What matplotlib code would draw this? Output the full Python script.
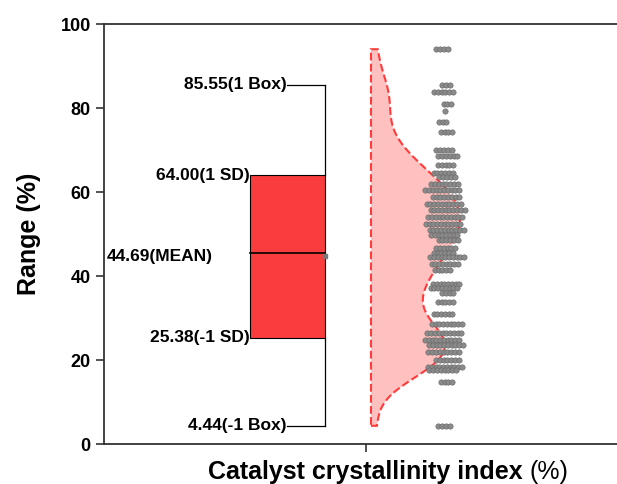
import matplotlib
matplotlib.use("Agg")
import matplotlib.pyplot as plt
import numpy as np

plt.rcParams['font.family'] = ['Liberation Sans', 'DejaVu Sans']

# data: distinct values and how many points sit on each row
row_values = [94.0, 85.6, 83.9, 81.0, 79.4, 76.6, 74.3, 70.1, 68.5, 66.5,
              64.6, 63.6, 62.0, 60.4, 58.8, 57.2, 55.7, 54.1, 52.5, 51.1,
              49.7, 48.5, 46.6, 45.4, 44.6, 43.0, 41.4, 38.2, 37.3, 35.9,
              33.9, 31.1, 28.7, 26.4, 24.8, 23.6, 22.0, 20.0, 18.4, 17.7,
              14.9, 4.4]
row_counts = [4, 3, 6, 3, 1, 3, 4, 5, 6, 5,
              6, 5, 8, 10, 8, 10, 10, 10, 10, 10,
              8, 6, 6, 6, 10, 8, 5, 8, 8, 4,
              5, 6, 9, 10, 10, 10, 9, 7, 10, 8,
              4, 4]

mean_val = 44.69
median_val = 45.5
sd_low, sd_high = 25.38, 64.00
box_low, box_high = 4.44, 85.55

label_up = "85.55(1 Box)"
label_sd_up = "64.00(1 SD)"
label_mean = "44.69(MEAN)"
label_sd_low = "25.38(-1 SD)"
label_low = "4.44(-1 Box)"

values = np.repeat(row_values, row_counts)

fig = plt.figure(figsize=(6.17, 4.84), dpi=100)
ax = fig.add_axes([0.1686, 0.082, 0.8492, 0.8684])

# box (mean +/- SD) with whiskers on the right side
bc, bw = 0.85, 0.0716
ax.bar(bc, sd_high - sd_low, bottom=sd_low, width=2 * bw, color='#f93c3c',
       edgecolor='black', linewidth=0.8, zorder=2)
ax.plot([bc - bw, bc + bw], [median_val, median_val], color='black', lw=1.2, zorder=3)
ax.plot([bc + bw, bc + bw], [sd_high, box_high], color='black', lw=0.9, zorder=2)
ax.plot([bc + bw, bc + bw], [box_low, sd_low], color='black', lw=0.9, zorder=2)
ax.plot([bc, bc + bw], [box_high, box_high], color='black', lw=0.9)
ax.plot([bc, bc + bw], [box_low, box_low], color='black', lw=0.9)
ax.plot(bc + bw, mean_val, marker='s', ms=3, color='#777777', zorder=4)

tk = dict(fontsize=12.5, fontweight='bold', va='center', ha='right')
ax.text(bc - 0.002, box_high, label_up, **tk)
ax.text(bc - 0.002, box_low, label_low, **tk)
ax.text(bc - bw - 0.001, sd_high, label_sd_up, **tk)
ax.text(bc - bw - 0.001, sd_low, label_sd_low, **tk)
ax.text(0.707, mean_val, label_mean, **tk)

# half violin from a gaussian kde of the points
x0, vmax = 1.0095, 0.17
grid = np.linspace(values.min(), values.max(), 300)
bwk = 5.0
dens = np.exp(-0.5 * ((grid[:, None] - values[None, :]) / bwk) ** 2).sum(axis=1)
dens = dens / dens.max() * vmax
vx = np.concatenate([[x0], x0 + dens, [x0]])
vy = np.concatenate([[grid[0]], grid, [grid[-1]]])
ax.fill(vx, vy, facecolor='#ffc0c0', edgecolor='#ff3b3b', linestyle='--',
        linewidth=1.5, zorder=2)

# points, spread sideways in each row
sc = 1.151
px, py = [], []
for i, (v, n) in enumerate(zip(row_values, row_counts)):
    shift = ((i * 0.618) % 1 - 0.5) * 0.012
    offs = (np.arange(n) - (n - 1) / 2) * 0.0072 + shift
    px.extend(sc + offs)
    py.extend([v] * n)
ax.scatter(px, py, s=15, color='#8a8a8a', edgecolors='#666666', linewidths=0.4, zorder=3)

ax.set_xlim(0.5, 1.5)
ax.set_ylim(0, 100)
ax.set_xticks([1.0])
ax.set_xticklabels([''])
ax.set_yticks([0, 20, 40, 60, 80, 100])
ax.tick_params(axis='y', labelsize=13, length=6, width=1.2, direction='out', color='#333333')
ax.tick_params(axis='x', length=6, width=1.2, direction='out', color='#333333')
for lab in ax.get_yticklabels():
    lab.set_fontweight('bold')
for s in ['left', 'bottom', 'top']:
    ax.spines[s].set_linewidth(1.3)
    ax.spines[s].set_color('#333333')
ax.spines['right'].set_visible(False)

ax.set_ylabel('Range (%)', fontsize=18, fontweight='bold', labelpad=14)

xl = fig.text(208 / 617, 1 - 472 / 484, 'Catalyst crystallinity index ', fontsize=18,
              fontweight='bold', ha='left', va='center')
ax.annotate('(%)', xy=(1, 0.5), xycoords=xl, fontsize=18, ha='left', va='center')

fig.savefig('out.png', dpi=100)
